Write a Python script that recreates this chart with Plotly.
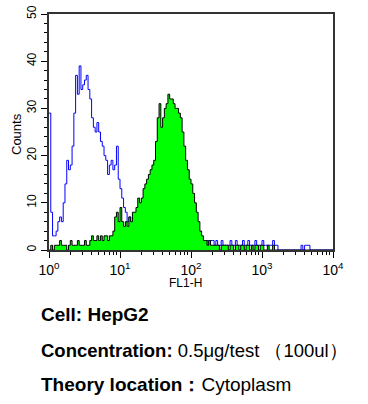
import numpy as np
import plotly.graph_objects as go

# channel positions on log10 scale (0 .. 4 decades, 0.025 step)
log_step = 0.025

isotype_counts = [
    29, 8, 3, 3, 4, 6, 7, 6, 10, 14, 19, 17, 18, 22, 29, 37, 33, 39, 34, 35,
    36, 37, 34, 32, 28, 26, 25, 27, 25, 23, 22, 20, 19, 16, 18, 19, 17, 18, 22, 15,
    13, 11, 9, 8, 6, 7, 5, 6, 5, 4, 4, 3, 3, 2, 2, 2, 1, 2, 1, 1,
    1, 1, 1, 1, 1, 1, 1, 1, 1, 1, 1, 1, 1, 1, 1, 1, 1, 1, 1, 1,
    1, 1, 1, 1, 1, 1, 1, 1, 1, 2, 1, 2, 2, 1, 2, 1, 1, 2, 1, 1,
    1, 1, 2, 1, 1, 2, 1, 1, 1, 2, 1, 1, 2, 1, 1, 1, 2, 1, 1, 1,
    2, 1, 1, 1, 1, 1, 2, 1, 1, 0, 0, 0, 0, 0, 0, 0, 0, 0, 0, 0,
    0, 0, 1, 0, 1, 1, 1, 0, 0, 0, 0, 0, 0, 0, 0, 0, 0, 0, 0, 0, 0,
]

sample_counts = [
    0, 1, 0, 1, 1, 1, 2, 1, 1, 1, 0, 1, 2, 1, 1, 1, 2, 1, 1, 1,
    2, 1, 1, 2, 3, 2, 2, 3, 2, 3, 2, 3, 3, 2, 3, 3, 4, 7, 8, 6,
    9, 6, 5, 6, 5, 7, 6, 8, 8, 9, 11, 10, 11, 13, 14, 15, 16, 17, 18, 19,
    23, 28, 31, 26, 28, 30, 31, 33, 32, 32, 31, 30, 30, 29, 28, 25, 22, 19, 17, 15,
    14, 12, 10, 8, 6, 4, 3, 2, 2, 1, 2, 1, 1, 1, 1, 1, 0, 1, 1, 1,
    1, 0, 1, 1, 0, 1, 1, 0, 1, 1, 0, 1, 1, 0, 1, 0, 1, 1, 0, 1,
    1, 0, 0, 1, 0, 0, 1, 0, 0, 0, 0, 0, 0, 0, 0, 0, 0, 0, 0, 0,
    0, 0, 0, 0, 0, 0, 0, 0, 0, 0, 0, 0, 0, 0, 0, 0, 0, 0, 0, 0, 0,
]

x_tick_vals = [1, 10, 100, 1000, 10000]
x_tick_text = ["10<sup>0</sup>", "10<sup>1</sup>", "10<sup>2</sup>", "10<sup>3</sup>", "10<sup>4</sup>"]
y_tick_vals = [0, 10, 20, 30, 40, 50]

x_title = "FL1-H"
y_title = "Counts"
info_lines = [
    "<b>Cell: HepG2</b>",
    "<b>Concentration:</b> 0.5μg/test （100ul）",
    "<b>Theory location：</b>Cytoplasm",
]
info_sizes = [19, 18.5, 19]

FONT = "Arial, Liberation Sans, sans-serif"

n_iso = len(isotype_counts)
n_smp = len(sample_counts)
x_iso = 10 ** (np.arange(n_iso) * log_step)
x_smp = 10 ** (np.arange(n_smp) * log_step)

fig = go.Figure()
fig.add_trace(go.Scatter(x=x_iso, y=isotype_counts, mode="lines",
                         line=dict(color="#0000FF", width=1, shape="hv"),
                         showlegend=False))
fig.add_trace(go.Scatter(x=x_smp, y=sample_counts, mode="lines",
                         line=dict(color="#000000", width=1, shape="hv"),
                         fill="tozeroy", fillcolor="#00FF00",
                         showlegend=False))

minor_x = [m * 10 ** k for k in range(4) for m in range(2, 10)]

fig.update_xaxes(type="log", range=[0, 4], tickvals=x_tick_vals, ticktext=x_tick_text,
                 ticks="outside", ticklen=6, tickwidth=1, tickcolor="#000",
                 minor=dict(tickvals=minor_x, ticks="outside", ticklen=3, tickcolor="#000"),
                 showline=True, linecolor="#333", linewidth=1.5, mirror=True,
                 showgrid=False, zeroline=False, automargin=False,
                 tickfont=dict(family=FONT, size=14, color="#000"))
fig.update_yaxes(range=[0, 50], tickvals=y_tick_vals, tickangle=-90,
                 ticks="outside", ticklen=6, tickwidth=1, tickcolor="#000",
                 minor=dict(dtick=2, ticks="outside", ticklen=3, tickcolor="#000"),
                 showline=True, linecolor="#333", linewidth=1.5, mirror=True,
                 showgrid=False, zeroline=False, automargin=False,
                 tickfont=dict(family=FONT, size=12, color="#000"))

W, H = 368, 404
mt, mb, ml, mr = 14, 154, 49, 35
pw = W - ml - mr
ph = H - mt - mb


def px(xp):
    return (xp - ml) / pw


def py(yp):
    return (H - mb - yp) / ph


fig.add_annotation(text=x_title, xref="paper", yref="paper", x=px(185), y=py(283),
                   xanchor="center", yanchor="middle", showarrow=False,
                   font=dict(family=FONT, size=12, color="#000"))
fig.add_annotation(text=y_title, xref="paper", yref="paper", x=px(16), y=py(134),
                   xanchor="center", yanchor="middle", showarrow=False, textangle=-90,
                   font=dict(family=FONT, size=13, color="#000"))

line_y_px = [314, 350, 384]
for txt, ypx, fs in zip(info_lines, line_y_px, info_sizes):
    fig.add_annotation(text=txt, xref="paper", yref="paper",
                       x=px(39), y=py(ypx),
                       xanchor="left", yanchor="middle", showarrow=False,
                       font=dict(family=FONT, size=fs, color="#000"))

fig.update_layout(width=W, height=H, margin=dict(l=ml, r=mr, t=mt, b=mb),
                  plot_bgcolor="white", paper_bgcolor="white")

fig.write_html("out.html", config={"displayModeBar": False},
               post_script="document.body.style.margin='0';document.body.style.padding='0';")
